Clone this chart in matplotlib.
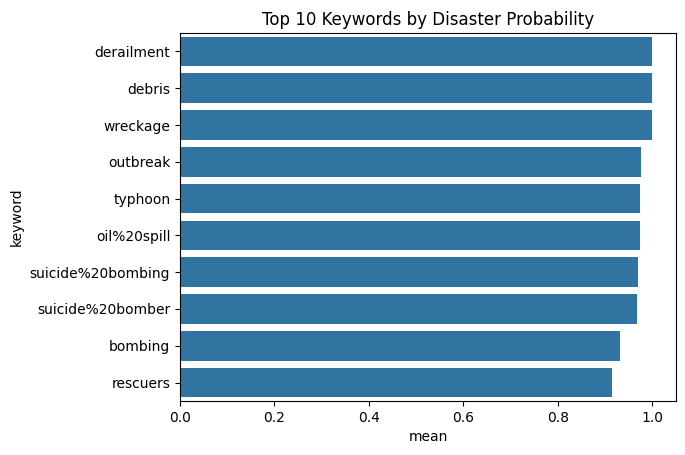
import matplotlib
matplotlib.use("Agg")
import matplotlib.pyplot as plt
import numpy as np

keywords = ["derailment", "debris", "wreckage", "outbreak", "typhoon", "oil%20spill",
            "suicide%20bombing", "suicide%20bomber", "bombing", "rescuers"]
means = [1.0, 1.0, 1.0, 0.975, 0.974, 0.974, 0.970, 0.968, 0.931, 0.914]

fig = plt.figure(figsize=(6.85, 4.55), dpi=100)
ax = fig.add_axes([180/685, 1-401/455, (676-180)/685, (401-33)/455])
y = np.arange(len(keywords))
ax.barh(y, means, height=0.8, color="#3274a1")
ax.set_yticks(y)
ax.set_yticklabels(keywords)
ax.set_ylim(len(keywords)-0.5, -0.5)
ax.set_xlim(0, 1.05)
ax.set_xlabel("mean")
ax.set_ylabel("keyword")
ax.set_title("Top 10 Keywords by Disaster Probability")
fig.savefig("out.png", dpi=100)
